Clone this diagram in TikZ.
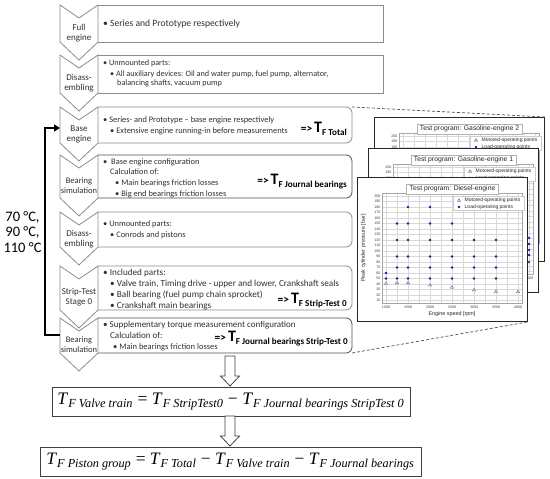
\documentclass[tikz,border=0pt]{standalone}
\usepackage{graphicx}
\usepackage{fontspec}
\setmainfont{Carlito}
\newfontfamily\chartfont{Liberation Sans}
\newfontfamily\eqfont{Liberation Serif}
\usetikzlibrary{arrows.meta,shapes.geometric}
\definecolor{edgegray}{HTML}{8C8C8C}
\definecolor{darkedge}{HTML}{505050}
\definecolor{textcol}{HTML}{303030}
\definecolor{eqedge}{HTML}{404040}
\definecolor{dashcol}{HTML}{505050}
\definecolor{dotblue}{HTML}{1A1AA0}
\definecolor{gridcol}{HTML}{D8D8D8}

\newcommand\cx[1]{(386+(#1-1000)*0.044)}
\newcommand\cy[1]{(196+(200-#1)*0.55)}

\newcommand\chevron[5][9]{%
  \draw[chev] (60,#2) -- (79,#2+13) -- (98,#2) -- (98,#3) -- (79,#3+18) -- (60,#3) -- cycle;
  \node[lbl, font=\fontsize{#1}{10}\selectfont] (#4) at (79,{(#2+#3)/2+9.5}) {#5};}

\newcommand\procbox[5]{%
  \draw[#4] (98,#1) -- (#3,#1) -- (#3,#2) -- (98,#2);
  \coordinate (#5ne) at (#3,#1);
  \coordinate (#5se) at (#3,#2);}

\newcommand\result[3]{%
  \node[res] (#1) at (#2) {{\fontsize{11.5}{12}\selectfont\bfseries =>\,}{\fontsize{16}{16}\selectfont\bfseries T}{\fontsize{9.1}{9.5}\selectfont\bfseries\raisebox{-3pt}{F #3}}};}

\newcommand\hollowarrow[3]{%
  \draw[hollow] (#1-5,#2) -- (#1+5,#2) -- (#1+5,#3-10) -- (#1+9.5,#3-10) -- (#1,#3) -- (#1-9.5,#3-10) -- (#1-5,#3-10) -- cycle;}

\newcommand\TF[1]{\textit{T}\textsubscript{\textit{#1}}}

\newcommand\testchart[6]{%
\begin{scope}[shift={(#1,#2)}]
  \node[chartframe, minimum width=170pt, minimum height=144pt, anchor=north west] (#4frame) at (357,177) {};
  \foreach \rr in {1000,1250,...,4000} \draw[gridcol, line width=0.3pt] ({\cx{\rr}},193) -- ({\cx{\rr}},303);
  \foreach \pp in {10,20,...,200} \draw[gridcol, line width=0.3pt] (382,{\cy{\pp}}) -- (522,{\cy{\pp}});
  \draw[gray!70, line width=0.4pt] (382,193) rectangle (522,303);
  \foreach \pp in {10,20,...,200} \node[ticklbl, anchor=east] at (381,{\cy{\pp}}) {\pp};
  \foreach \rr in {1000,1500,...,4000} \node[ticklbl] at ({\cx{\rr}},307.5) {\rr};
  \node[axlbl] at (452,314.5) {Engine speed [rpm]};
  \node[axlbl, rotate=90] at (363.5,248) {Peak cylinder pressure [bar]};
  \foreach \rr/\pp in {#5} \fill[dotblue] ({\cx{\rr}},{\cy{\pp}}) circle (1.3pt);
  \foreach \rr/\pp in {#6} \node[tri] at ({\cx{\rr}},{\cy{\pp}}) {};
  \node[legendbox, minimum width=71pt, minimum height=14pt, anchor=north west] (#4legend) at (453,196) {};
  \node[tri] at (459,200.5) {};
  \fill[dotblue] (459,207) circle (1.3pt);
  \node[leglbl, anchor=west] at (464.5,200.5) {Motored-operating points};
  \node[leglbl, anchor=west] at (464.5,207) {Load-operating points};
  \node[charttitle] (#4title) at (452.5,189) {#3};
\end{scope}}

\begin{document}
\begin{tikzpicture}[x=1pt,y=-1pt,
  chev/.style={draw=edgegray, fill=white, line width=0.8pt, line join=miter},
  boxline/.style={draw=edgegray, line width=0.8pt},
  boxdark/.style={draw=darkedge, line width=0.8pt},
  txt/.style={font=\fontsize{#1}{10}\selectfont, text=textcol, inner sep=0pt, anchor=base west},
  txt/.default=8.4,
  lbl/.style={text=textcol, align=center, inner sep=0pt},
  res/.style={inner sep=0pt, anchor=base east, text=black},
  eqbox/.style={draw=eqedge, line width=0.9pt, fill=white, inner sep=0pt},
  hollow/.style={draw=eqedge, fill=white, line width=0.8pt, line join=miter},
  fb/.style={line width=1.8pt, draw=black, line join=miter},
  dashconn/.style={draw=dashcol, line width=0.7pt, dash pattern=on 3pt off 2pt},
  chartframe/.style={draw=black!85, line width=0.9pt, fill=white, inner sep=0pt},
  charttitle/.style={draw=gray!60, fill=white, line width=0.4pt, font=\chartfont\fontsize{6.8}{7}\selectfont, inner xsep=3pt, inner ysep=1.6pt, text=black!85},
  legendbox/.style={draw=gray!40, fill=white, line width=0.3pt, inner sep=0pt},
  ticklbl/.style={font=\chartfont\fontsize{3.6}{3.8}\selectfont, inner sep=0.5pt, text=black!75},
  axlbl/.style={font=\chartfont\fontsize{5.4}{6}\selectfont, inner sep=0pt, text=black!85},
  leglbl/.style={font=\chartfont\fontsize{5}{5.5}\selectfont, inner sep=0pt, text=black!85},
  tri/.style={regular polygon, regular polygon sides=3, minimum size=3.8pt, inner sep=0pt, draw=gray!80!black, fill=gray!35, line width=0.3pt},
]
\useasboundingbox (0,0) rectangle (550,479);
\fill[white] (0,0) rectangle (550,479);

% process boxes
\procbox{5}{42}{383}{boxline}{bA}
\procbox{55}{93}{383}{boxline}{bB}
\procbox{107}{143}{352}{boxline, rounded corners=6pt}{bC}
\procbox{155}{198}{352}{boxdark, rounded corners=6pt}{bD}
\procbox{212}{247}{352}{boxline, rounded corners=6pt}{bE}
\procbox{266}{310}{352}{boxline, rounded corners=6pt}{bF}
\procbox{318}{353}{352}{boxdark, rounded corners=6pt}{bG}

% chevrons
\chevron{5}{42}{cA}{Full\\engine}
\chevron{55}{93}{cB}{Disass-\\embling}
\chevron{107}{143}{cC}{Base\\engine}
\chevron[8.5]{155}{198}{cD}{Bearing\\simulation}
\chevron{212}{247}{cE}{Disass-\\embling}
\chevron{266}{310}{cF}{Strip-Test\\Stage 0}
\chevron[8.5]{318}{353}{cG}{Bearing\\simulation}

% box texts
\node[txt=9.6] (tA1) at (103,26.5) {• Series and Prototype respectively};
\node[txt=8.2] (tB1) at (103,65.5) {• Unmounted parts:};
\node[txt=8.2] (tB2) at (110,76.5) {• All auxiliary devices: Oil and water pump, fuel pump, alternator,};
\node[txt=8.2] (tB3) at (117,85.5) {balancing shafts, vacuum pump};

\node[txt] (tC1) at (103,122.5) {• Series- and Prototype – base engine respectively};
\node[txt] (tC2) at (110,133.5) {• Extensive engine running-in before measurements};
\result{rC}{347,132}{Total}

\node[txt] (tD1) at (103,164.5) {•\ \ Base engine configuration};
\node[txt] (tD2) at (110,174.5) {Calculation of:};
\node[txt] (tD3) at (115,185.5) {• Main bearings friction losses};
\node[txt] (tD4) at (115,196) {• Big end bearings friction losses};
\result{rD}{347,184}{Journal bearings}

\node[txt] (tE1) at (103,226.5) {• Unmounted parts:};
\node[txt] (tE2) at (110,237.5) {• Conrods and pistons};

\node[txt=9.2] (tF1) at (103,275.5) {• Included parts:};
\node[txt=9.2] (tF2) at (110,286) {• Valve train, Timing drive - upper and lower, Crankshaft seals};
\node[txt=9.2] (tF3) at (110,297) {• Ball bearing (fuel pump chain sprocket)};
\node[txt=9.2] (tF4) at (110,308) {• Crankshaft main bearings};
\result{rF}{347,303}{Strip-Test 0}

\node[txt=9] (tG1) at (103,327.5) {• Supplementary torque measurement configuration};
\node[txt=9] (tG2) at (110,338.5) {Calculation of:};
\node[txt=8.5] (tG3) at (113,349.8) {• Main bearings friction losses};
\result{rG}{348,341}{Journal bearings Strip-Test 0}

% temperatures and feedback loop
\node[font=\fontsize{14.5}{15.5}\selectfont, align=center, text=black, inner sep=0pt] (temps) at (22.5,232) {70 °C,\\90 °C,\\110 °C};
\coordinate (fbStart) at (60,335);
\coordinate (fbMid) at (45,230);
\coordinate (fbEnd) at (60,128);
\draw[fb, -{Triangle[length=6pt,width=7pt]}] (fbStart) -| (fbMid) |- (fbEnd);

% charts
\testchart{17}{-60}{Test program: Gasoline-engine 2}{gB}{4000/70,4000/60}{4000/30}
\testchart{11}{-29}{Test program: Gasoline-engine 1}{gA}{4000/71,4000/60,4000/49,4000/40,4000/27}{1000/30}
\testchart{0}{0}{Test program: Diesel-engine}{dz}{1000/60,1000/50,1250/150,1250/120,1250/90,1250/70,1250/50,1500/180,1500/150,1500/120,1500/90,1500/70,1500/50,2000/180,2000/150,2000/120,2000/90,2000/70,2000/50,2500/150,2500/120,2500/90,2500/70,2500/50,3000/120,3000/90,3000/70,3000/50,3500/120,3500/90,3500/70,3500/50}{1000/41,1250/42,1500/42,2000/38,2500/34,3000/29,3500/26,4000/26}

% dashed connectors
\draw[dashconn] (bCne) -- (gBframe.north east);
\draw[dashconn] (bGse) -- (dzframe.south east);

% result arrows and equations
\hollowarrow{230}{356}{386}
\node[eqbox, minimum width=358pt, minimum height=29pt] (eq1) at (231,401.5) {\resizebox{347pt}{!}{\eqfont\fontsize{14}{16}\selectfont \TF{F Valve train} = \TF{F StripTest0} − \TF{F Journal bearings StripTest 0}}};
\hollowarrow{230}{416}{446}
\node[eqbox, minimum width=381pt, minimum height=29pt] (eq2) at (230.5,461.5) {\resizebox{368pt}{!}{\eqfont\fontsize{14}{16}\selectfont \TF{F Piston group} = \TF{F Total} − \TF{F Valve train} − \TF{F Journal bearings}}};
\end{tikzpicture}
\end{document}
